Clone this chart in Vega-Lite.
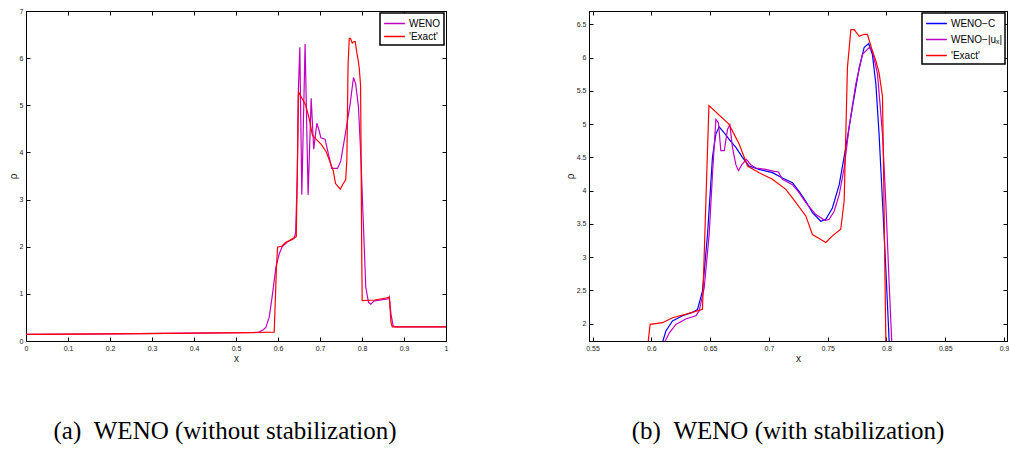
{
  "$schema": "https://vega.github.io/schema/vega-lite/v6.json",
  "background": "white",
  "padding": {"left": 7, "top": 6, "right": 0, "bottom": 0},
  "datasets": {
    "exact": [
      {"x": 0, "rho": 0.14}, {"x": 0.2, "rho": 0.15}, {"x": 0.4, "rho": 0.165}, {"x": 0.55, "rho": 0.18},
      {"x": 0.591, "rho": 0.19}, {"x": 0.5965, "rho": 1.6}, {"x": 0.599, "rho": 1.99}, {"x": 0.6095, "rho": 2.015},
      {"x": 0.618, "rho": 2.09}, {"x": 0.629, "rho": 2.14}, {"x": 0.6435, "rho": 2.215}, {"x": 0.649, "rho": 5.28},
      {"x": 0.666, "rho": 5.0}, {"x": 0.6747, "rho": 4.7}, {"x": 0.6818, "rho": 4.37}, {"x": 0.6917, "rho": 4.27},
      {"x": 0.703, "rho": 4.17}, {"x": 0.7144, "rho": 4.02}, {"x": 0.72, "rho": 3.89}, {"x": 0.7314, "rho": 3.62},
      {"x": 0.737, "rho": 3.34}, {"x": 0.7427, "rho": 3.28}, {"x": 0.7484, "rho": 3.22}, {"x": 0.754, "rho": 3.32},
      {"x": 0.7611, "rho": 3.42}, {"x": 0.764, "rho": 3.84}, {"x": 0.7668, "rho": 5.85}, {"x": 0.7697, "rho": 6.42},
      {"x": 0.7725, "rho": 6.42}, {"x": 0.7768, "rho": 6.32}, {"x": 0.781, "rho": 6.35}, {"x": 0.7838, "rho": 6.35},
      {"x": 0.788, "rho": 6.1}, {"x": 0.791, "rho": 5.95}, {"x": 0.7937, "rho": 5.77}, {"x": 0.7966, "rho": 5.42},
      {"x": 0.7975, "rho": 4.34}, {"x": 0.7994, "rho": 1.8}, {"x": 0.8005, "rho": 0.855}, {"x": 0.83, "rho": 0.87},
      {"x": 0.865, "rho": 0.925}, {"x": 0.869, "rho": 0.4}, {"x": 0.872, "rho": 0.3}, {"x": 1, "rho": 0.3}
    ],
    "weno_a": [
      {"x": 0, "rho": 0.14}, {"x": 0.2, "rho": 0.15}, {"x": 0.4, "rho": 0.165}, {"x": 0.54, "rho": 0.18},
      {"x": 0.555, "rho": 0.19}, {"x": 0.565, "rho": 0.24}, {"x": 0.571, "rho": 0.29}, {"x": 0.579, "rho": 0.5},
      {"x": 0.587, "rho": 1.0}, {"x": 0.595, "rho": 1.56}, {"x": 0.603, "rho": 1.85}, {"x": 0.61, "rho": 2.0},
      {"x": 0.622, "rho": 2.1}, {"x": 0.638, "rho": 2.17}, {"x": 0.642, "rho": 2.3}, {"x": 0.646, "rho": 3.5},
      {"x": 0.648, "rho": 5.2}, {"x": 0.652, "rho": 6.23}, {"x": 0.6567, "rho": 3.1}, {"x": 0.6645, "rho": 6.3},
      {"x": 0.6717, "rho": 3.1}, {"x": 0.679, "rho": 5.15}, {"x": 0.685, "rho": 4.07}, {"x": 0.6925, "rho": 4.62},
      {"x": 0.698, "rho": 4.46}, {"x": 0.702, "rho": 4.31}, {"x": 0.712, "rho": 4.28}, {"x": 0.72, "rho": 3.97},
      {"x": 0.728, "rho": 3.66}, {"x": 0.7417, "rho": 3.66}, {"x": 0.7496, "rho": 3.82}, {"x": 0.7615, "rho": 4.46},
      {"x": 0.7718, "rho": 5.03}, {"x": 0.7797, "rho": 5.59}, {"x": 0.785, "rho": 5.45}, {"x": 0.7916, "rho": 4.96},
      {"x": 0.797, "rho": 3.97}, {"x": 0.803, "rho": 2.55}, {"x": 0.809, "rho": 1.14}, {"x": 0.8155, "rho": 0.82},
      {"x": 0.821, "rho": 0.78}, {"x": 0.829, "rho": 0.85}, {"x": 0.861, "rho": 0.89}, {"x": 0.865, "rho": 0.94},
      {"x": 0.869, "rho": 0.57}, {"x": 0.874, "rho": 0.32}, {"x": 0.88, "rho": 0.3}, {"x": 1, "rho": 0.3}
    ],
    "weno_c": [
      {"x": 0.6075, "rho": 1.6}, {"x": 0.6124, "rho": 1.89}, {"x": 0.618, "rho": 2.04}, {"x": 0.6265, "rho": 2.12},
      {"x": 0.635, "rho": 2.17}, {"x": 0.6393, "rho": 2.215}, {"x": 0.6435, "rho": 2.49}, {"x": 0.6478, "rho": 3.34},
      {"x": 0.652, "rho": 4.5}, {"x": 0.6549, "rho": 4.85}, {"x": 0.6577, "rho": 4.96}, {"x": 0.662, "rho": 4.87},
      {"x": 0.6662, "rho": 4.77}, {"x": 0.6719, "rho": 4.65}, {"x": 0.6775, "rho": 4.5}, {"x": 0.6832, "rho": 4.37},
      {"x": 0.6917, "rho": 4.32}, {"x": 0.703, "rho": 4.27}, {"x": 0.7115, "rho": 4.19}, {"x": 0.72, "rho": 4.12},
      {"x": 0.7257, "rho": 3.99}, {"x": 0.7314, "rho": 3.84}, {"x": 0.737, "rho": 3.67}, {"x": 0.7441, "rho": 3.54},
      {"x": 0.7484, "rho": 3.57}, {"x": 0.754, "rho": 3.74}, {"x": 0.7598, "rho": 4.09}, {"x": 0.7654, "rho": 4.65},
      {"x": 0.771, "rho": 5.25}, {"x": 0.7768, "rho": 5.85}, {"x": 0.781, "rho": 6.15}, {"x": 0.7848, "rho": 6.21},
      {"x": 0.788, "rho": 6.05}, {"x": 0.791, "rho": 5.6}, {"x": 0.7937, "rho": 4.85}, {"x": 0.7966, "rho": 3.84},
      {"x": 0.7994, "rho": 2.84}, {"x": 0.8023, "rho": 1.73}, {"x": 0.804, "rho": 1.2}
    ],
    "weno_u": [
      {"x": 0.608, "rho": 1.6}, {"x": 0.6152, "rho": 1.86}, {"x": 0.6209, "rho": 1.99}, {"x": 0.6293, "rho": 2.07},
      {"x": 0.6379, "rho": 2.12}, {"x": 0.6407, "rho": 2.19}, {"x": 0.645, "rho": 2.54}, {"x": 0.6492, "rho": 3.34},
      {"x": 0.652, "rho": 4.24}, {"x": 0.6549, "rho": 5.07}, {"x": 0.6571, "rho": 5.02}, {"x": 0.6591, "rho": 4.6},
      {"x": 0.662, "rho": 4.6}, {"x": 0.6648, "rho": 4.92}, {"x": 0.6668, "rho": 4.99}, {"x": 0.669, "rho": 4.65},
      {"x": 0.6719, "rho": 4.39}, {"x": 0.6741, "rho": 4.3}, {"x": 0.677, "rho": 4.39}, {"x": 0.6809, "rho": 4.47},
      {"x": 0.6846, "rho": 4.39}, {"x": 0.6889, "rho": 4.34}, {"x": 0.6973, "rho": 4.32}, {"x": 0.7045, "rho": 4.29},
      {"x": 0.7081, "rho": 4.28}, {"x": 0.7115, "rho": 4.17}, {"x": 0.72, "rho": 4.09}, {"x": 0.7257, "rho": 3.97},
      {"x": 0.7314, "rho": 3.82}, {"x": 0.7399, "rho": 3.64}, {"x": 0.7478, "rho": 3.55}, {"x": 0.7513, "rho": 3.57},
      {"x": 0.7555, "rho": 3.69}, {"x": 0.7598, "rho": 3.94}, {"x": 0.764, "rho": 4.34}, {"x": 0.7682, "rho": 4.95},
      {"x": 0.7739, "rho": 5.6}, {"x": 0.7796, "rho": 6.05}, {"x": 0.7853, "rho": 6.15}, {"x": 0.788, "rho": 6.1},
      {"x": 0.7924, "rho": 5.75}, {"x": 0.7966, "rho": 4.85}, {"x": 0.7994, "rho": 3.84}, {"x": 0.8023, "rho": 2.59},
      {"x": 0.8045, "rho": 1.73}, {"x": 0.806, "rho": 1.2}
    ]
  },
  "spacing": 143,
  "bounds": "flush",
  "resolve": {"scale": {"color": "independent"}},
  "hconcat": [
    {
      "width": 420,
      "height": 330,
      "title": {"text": "(a)\u00a0\u00a0WENO (without stabilization)", "dx": -11},
      "resolve": {"axis": {"x": "independent", "y": "independent"}},
      "layer": [
        {
          "data": {"name": "weno_a"},
          "mark": {"type": "line", "clip": true, "strokeWidth": 1.2},
          "encoding": {
            "x": {"field": "x", "type": "quantitative", "scale": {"domain": [0, 1], "nice": false, "zero": false},
                  "axis": {"values": [0, 0.1, 0.2, 0.3, 0.4, 0.5, 0.6, 0.7, 0.8, 0.9, 1], "title": "x"}},
            "y": {"field": "rho", "type": "quantitative", "scale": {"domain": [0, 7], "nice": false},
                  "axis": {"values": [0, 1, 2, 3, 4, 5, 6, 7], "title": "ρ"}},
            "color": {"datum": "WENO", "type": "nominal",
                      "scale": {"domain": ["WENO", "'Exact'"], "range": ["#c000c0", "#ff0000"]}}
          }
        },
        {
          "data": {"name": "exact"},
          "mark": {"type": "line", "clip": true, "strokeWidth": 1.2},
          "encoding": {
            "x": {"field": "x", "type": "quantitative", "axis": null},
            "y": {"field": "rho", "type": "quantitative", "axis": null},
            "color": {"datum": "'Exact'", "type": "nominal"}
          }
        },
        {
          "data": {"name": "exact"},
          "mark": {"type": "point", "opacity": 0},
          "encoding": {
            "x": {"field": "x", "type": "quantitative",
                  "axis": {"orient": "top", "labels": false, "title": null, "values": [0, 0.1, 0.2, 0.3, 0.4, 0.5, 0.6, 0.7, 0.8, 0.9, 1]}},
            "y": {"field": "rho", "type": "quantitative",
                  "axis": {"orient": "right", "labels": false, "title": null, "values": [0, 1, 2, 3, 4, 5, 6, 7]}}
          }
        }
      ]
    },
    {
      "width": 418,
      "height": 330,
      "title": {"text": "(b)\u00a0\u00a0WENO (with stabilization)", "dx": -10},
      "resolve": {"axis": {"x": "independent", "y": "independent"}},
      "layer": [
        {
          "data": {"name": "weno_c"},
          "mark": {"type": "line", "clip": true, "strokeWidth": 1.2},
          "encoding": {
            "x": {"field": "x", "type": "quantitative", "scale": {"domain": [0.547, 0.9025], "nice": false, "zero": false},
                  "axis": {"values": [0.55, 0.6, 0.65, 0.7, 0.75, 0.8, 0.85, 0.9], "title": "x"}},
            "y": {"field": "rho", "type": "quantitative", "scale": {"domain": [1.74, 6.7], "nice": false, "zero": false},
                  "axis": {"values": [2, 2.5, 3, 3.5, 4, 4.5, 5, 5.5, 6, 6.5], "title": "ρ"}},
            "color": {"datum": "WENO−C", "type": "nominal",
                      "scale": {"domain": ["WENO−C", "WENO−|uₓ|", "'Exact'"], "range": ["#0000ff", "#c000c0", "#ff0000"]},
                      "legend": {"rowPadding": 3}}
          }
        },
        {
          "data": {"name": "weno_u"},
          "mark": {"type": "line", "clip": true, "strokeWidth": 1.2},
          "encoding": {
            "x": {"field": "x", "type": "quantitative", "axis": null},
            "y": {"field": "rho", "type": "quantitative", "axis": null},
            "color": {"datum": "WENO−|uₓ|", "type": "nominal"}
          }
        },
        {
          "data": {"name": "exact"},
          "mark": {"type": "line", "clip": true, "strokeWidth": 1.2},
          "encoding": {
            "x": {"field": "x", "type": "quantitative", "axis": null},
            "y": {"field": "rho", "type": "quantitative", "axis": null},
            "color": {"datum": "'Exact'", "type": "nominal"}
          }
        },
        {
          "data": {"name": "weno_c"},
          "mark": {"type": "point", "opacity": 0, "clip": true},
          "encoding": {
            "x": {"field": "x", "type": "quantitative",
                  "axis": {"orient": "top", "labels": false, "title": null, "values": [0.55, 0.6, 0.65, 0.7, 0.75, 0.8, 0.85, 0.9]}},
            "y": {"field": "rho", "type": "quantitative",
                  "axis": {"orient": "right", "labels": false, "title": null, "values": [2, 2.5, 3, 3.5, 4, 4.5, 5, 5.5, 6, 6.5]}}
          }
        }
      ]
    }
  ],
  "config": {
    "view": {"stroke": "black", "strokeWidth": 1},
    "axis": {
      "grid": false, "domainColor": "black", "domainWidth": 1, "tickColor": "black", "tickSize": -4,
      "labelFont": "Liberation Sans", "labelFontSize": 7, "labelColor": "#222", "labelPadding": 7,
      "labelFlush": false, "labelOverlap": false, "labelBound": false, "format": "~g",
      "titleFont": "Liberation Sans", "titleFontSize": 10, "titleFontWeight": "normal", "titleColor": "#222", "titlePadding": 2
    },
    "axisY": {"titlePadding": 1},
    "legend": {
      "orient": "top-right", "offset": 2, "title": null, "strokeColor": "black", "strokeWidth": 1.5,
      "fillColor": "white", "padding": 3, "symbolType": "M-1.6,0H1.6", "symbolSize": 169, "symbolStrokeWidth": 1.5,
      "symbolOffset": 4, "labelFont": "Liberation Sans", "labelFontSize": 10, "labelColor": "black",
      "rowPadding": 0, "labelOffset": 7, "labelLimit": 200
    },
    "title": {
      "orient": "bottom", "anchor": "middle", "offset": 56, "font": "Liberation Serif", "fontSize": 25,
      "fontWeight": "normal", "color": "black"
    }
  }
}
